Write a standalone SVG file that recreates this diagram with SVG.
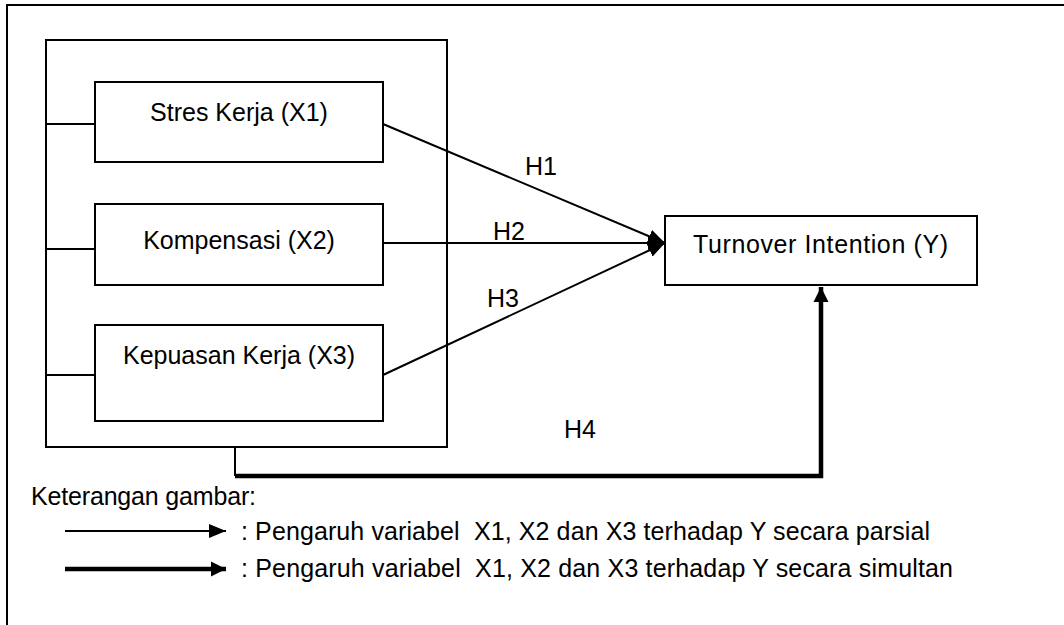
<svg xmlns="http://www.w3.org/2000/svg" width="1064" height="625" viewBox="0 0 1064 625">
<style>
text{font-family:"Liberation Sans",Arial,sans-serif;font-size:25px;fill:#000;white-space:pre}
.box{fill:#fff;stroke:#000;stroke-width:2}
.thin{stroke:#000;stroke-width:2;fill:none}
.thick{stroke:#000;stroke-width:4.5;fill:none}
</style>
<defs>
<marker id="ah" markerUnits="userSpaceOnUse" markerWidth="18" markerHeight="16" refX="17" refY="8" orient="auto" viewBox="0 0 18 16">
<path d="M0,1 L17,8 L0,15 Z" fill="#000"/>
</marker>
<marker id="ahk" markerUnits="userSpaceOnUse" markerWidth="16" markerHeight="16" refX="15" refY="8" orient="auto" viewBox="0 0 16 16">
<path d="M0,0.5 L15,8 L0,15.5 Z" fill="#000"/>
</marker>
</defs>
<rect width="1064" height="625" fill="#fff"/>
<g id="frame">
<path class="thin" d="M7,640 V5 H1070"/>
</g>
<g id="group-box">
<rect class="box" x="46" y="40" width="401" height="407"/>
</g>
<g id="connectors">
<path class="thin" d="M46,124 H95 M46,249 H95 M46,375 H95"/>
<line class="thin" x1="383" y1="124" x2="665" y2="243" marker-end="url(#ah)"/>
<line class="thin" x1="383" y1="243" x2="665" y2="243" marker-end="url(#ah)"/>
<line class="thin" x1="383" y1="375" x2="665" y2="243" marker-end="url(#ah)"/>
<path class="thin" d="M235,447 V476"/>
<path class="thick" d="M235,476 H821 V287" marker-end="url(#ahk)"/>
</g>
<g id="x1">
<rect class="box" x="95" y="82" width="288" height="80"/>
<text x="239" y="121" text-anchor="middle">Stres Kerja (X1)</text>
</g>
<g id="x2">
<rect class="box" x="95" y="204" width="288" height="81"/>
<text x="239" y="249" text-anchor="middle">Kompensasi (X2)</text>
</g>
<g id="x3">
<rect class="box" x="95" y="325" width="288" height="96"/>
<text x="239" y="364" text-anchor="middle">Kepuasan Kerja (X3)</text>
</g>
<g id="y">
<rect class="box" x="665" y="216" width="312" height="69"/>
<text x="693" y="253" textLength="255">Turnover Intention (Y)</text>
</g>
<g id="labels">
<text x="525" y="175">H1</text>
<text x="493" y="240">H2</text>
<text x="487" y="307">H3</text>
<text x="564" y="438">H4</text>
</g>
<g id="legend">
<text x="31" y="505" textLength="225">Keterangan gambar:</text>
<line class="thin" x1="65" y1="531" x2="226" y2="531" marker-end="url(#ah)"/>
<line class="thick" x1="65" y1="569" x2="226" y2="569" marker-end="url(#ahk)"/>
<text x="241" y="540" textLength="689">: Pengaruh variabel  X1, X2 dan X3 terhadap Y secara parsial</text>
<text x="241" y="577" textLength="712">: Pengaruh variabel  X1, X2 dan X3 terhadap Y secara simultan</text>
</g>
</svg>
